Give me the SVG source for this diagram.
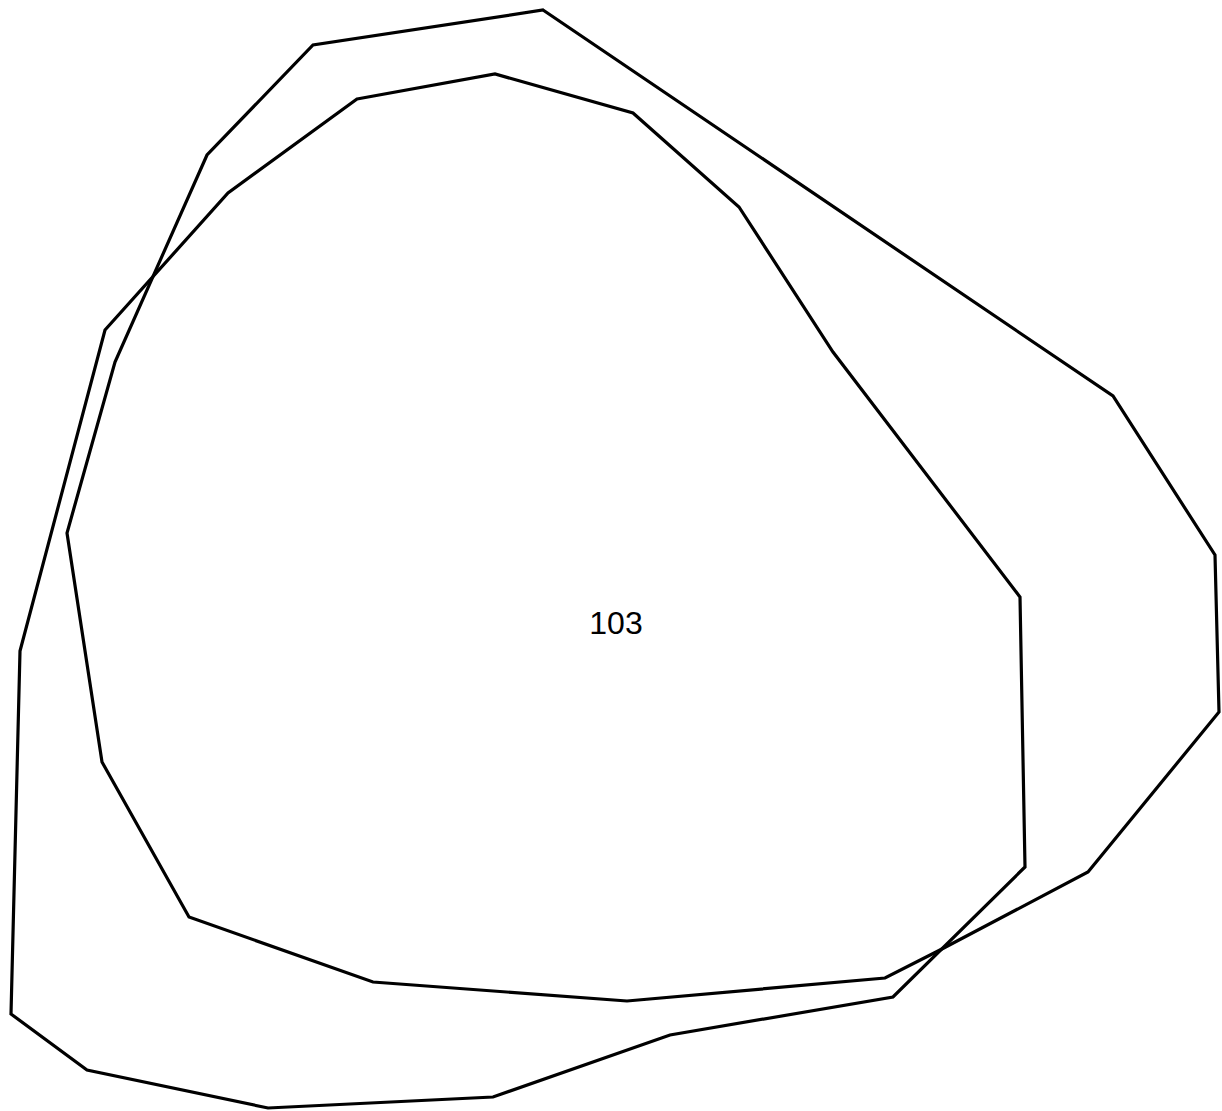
<svg xmlns="http://www.w3.org/2000/svg" width="1222" height="1111" viewBox="0 0 1222 1111">
<style>
.outline{fill:none;stroke:#000;stroke-width:3.2;stroke-linejoin:miter}
.lbl{font-family:"Liberation Sans",Arial,sans-serif;font-size:32px;fill:#000}
</style>
<rect width="1222" height="1111" fill="#fff"/>
<g id="region-a">
<polygon class="outline" points="357,99 495,74 633,113 739,207 833,352 1020,597 1025,867 893,997 670,1035 493,1097 268,1108 87,1070 11,1014 20,651 105,330 228,193"/>
</g>
<g id="region-b">
<polygon class="outline" points="543,10 1113,396 1215,555 1219,712 1088,872 940,950 885,978 627,1001 373,982 189,917 102,762 67,533 115,362 207,155 313,45"/>
</g>
<g id="label">
<text class="lbl" x="616" y="634" text-anchor="middle">103</text>
</g>
<g id="connectors"/>
</svg>
